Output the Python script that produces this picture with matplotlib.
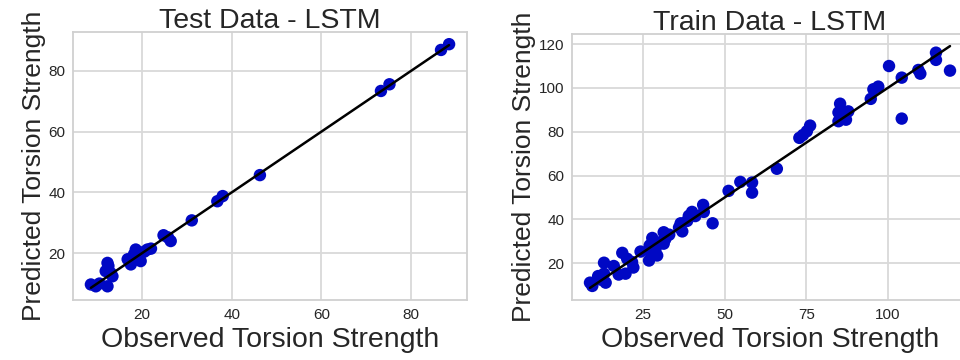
import matplotlib
matplotlib.use("Agg")
import matplotlib.pyplot as plt
from matplotlib.ticker import MultipleLocator
import seaborn as sns

sns.set_style("whitegrid")
plt.rcParams["font.family"] = ["Liberation Sans", "DejaVu Sans"]

# Test set: observed vs. predicted torsion strength
test_observed = [88.5, 86.7, 75.2, 73.3, 46.3, 38.0, 36.8, 31.1, 24.8, 25.8,
                 26.4, 21.2, 18.6, 19.7, 17.5, 18.2, 16.8, 12.3, 11.9, 13.4,
                 12.3, 8.6, 9.7, 12.5, 10.5, 20.5, 22.0, 13.0]
test_predicted = [88.8, 86.9, 75.6, 73.4, 45.7, 38.8, 37.1, 30.8, 25.9, 25.2,
                  24.0, 21.2, 21.2, 17.4, 16.3, 19.6, 18.0, 16.8, 14.1, 12.4,
                  9.1, 9.7, 9.1, 15.8, 10.0, 20.5, 21.5, 13.5]

# Training set: observed vs. predicted torsion strength
train_observed = [114.8, 114.8, 119.1, 109.4, 110.0, 100.4, 104.3, 104.3, 97.1, 95.6,
                  94.8, 85.4, 84.9, 87.9, 87.2, 84.9, 86.5, 76.2, 75.2, 72.9,
                  74.0, 66.0, 58.4, 58.4, 54.8, 51.2, 46.3, 43.4, 43.6, 40.0,
                  39.0, 38.5, 36.5, 37.0, 36.0, 31.3, 31.8, 30.3, 27.8, 28.8,
                  26.8, 26.8, 29.3, 24.2, 27.0, 31.3, 21.6, 20.1, 18.6, 19.6,
                  17.5, 16.0, 13.0, 13.0, 13.5, 11.2, 8.7, 9.4, 22.0, 33.0,
                  41.0, 12.0]
train_predicted = [116.1, 112.8, 107.9, 108.2, 106.5, 110.0, 104.7, 86.0, 100.6, 99.4,
                   95.0, 92.8, 88.8, 89.3, 85.5, 84.8, 87.5, 82.8, 80.2, 77.2,
                   78.5, 63.1, 56.8, 52.2, 57.1, 53.0, 38.2, 46.6, 43.4, 43.4,
                   41.6, 39.3, 38.2, 34.5, 36.3, 34.1, 31.0, 29.6, 31.5, 26.5,
                   25.7, 21.2, 23.5, 25.3, 28.1, 28.9, 20.5, 22.0, 24.7, 15.2,
                   14.8, 18.7, 20.2, 15.2, 11.1, 14.1, 11.1, 9.6, 18.0, 33.0,
                   41.5, 12.5]

panels = [
    ("Test Data - LSTM", test_observed, test_predicted, 20,
     [73 / 960, 60 / 360, 394 / 960, 268 / 360]),
    ("Train Data - LSTM", train_observed, train_predicted, 25,
     [572 / 960, 60 / 360, 396 / 960, 266 / 360]),
]

fig = plt.figure(figsize=(9.6, 3.6), dpi=100)
for title, obs, pred, xstep, rect in panels:
    ax = fig.add_axes(rect)
    ax.scatter(obs, pred, s=80, color="#0008c4", edgecolors="none", zorder=2)
    lo, hi = min(obs), max(obs)
    ax.plot([lo, hi], [lo, hi], color="black", linewidth=1.8, zorder=3)
    ax.xaxis.set_major_locator(MultipleLocator(xstep))
    ax.yaxis.set_major_locator(MultipleLocator(20))
    ax.set_title(title, fontsize=20.5, color="#262626", pad=3)
    ax.set_xlabel("Observed Torsion Strength", fontsize=20.5, color="#262626", labelpad=4)
    ax.set_ylabel("Predicted Torsion Strength", fontsize=19, color="#262626", labelpad=2)
    ax.tick_params(labelsize=11, colors="#262626", pad=2)
    ax.grid(color="#d9d9d9", linewidth=1.3)
    for sp in ax.spines.values():
        sp.set_color("#d0d0d0")
        sp.set_linewidth(1.3)

fig.savefig("out.png", dpi=100)
